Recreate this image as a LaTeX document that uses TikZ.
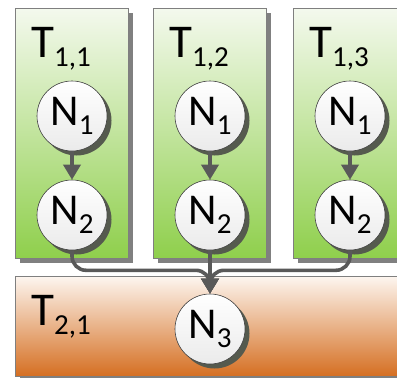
\documentclass[tikz,border=0pt]{standalone}
\usepackage{fontspec}
\setmainfont{Carlito}
\usetikzlibrary{arrows.meta, shadows}

\definecolor{boxline}{HTML}{7F7F7F}
\definecolor{boxshade}{HTML}{808080}
\definecolor{greentop}{HTML}{F4F9EE}
\definecolor{greenmid}{HTML}{C8E6A8}
\definecolor{greenbot}{HTML}{8FCF4C}
\definecolor{orangetop}{HTML}{FDF6F0}
\definecolor{orangemid}{HTML}{EDB88E}
\definecolor{orangebot}{HTML}{D56F22}
\definecolor{circshade}{HTML}{555A4E}
\definecolor{edgecol}{HTML}{595959}

% label with a lowered, smaller index
\newcommand{\idx}[2]{#1\raisebox{-0.2em}{\fontsize{29}{29}\selectfont #2}}

\begin{document}
\begin{tikzpicture}[x=1pt, y=-1pt,
  tbox/.style={draw=boxline, line width=0.8pt, inner sep=0pt,
               drop shadow={shadow xshift=5pt, shadow yshift=-5pt, fill=boxshade, opacity=1}},
  greenbox/.style={tbox, minimum width=113pt, minimum height=250pt,
                   top color=greentop, middle color=greenmid, bottom color=greenbot},
  orangebox/.style={tbox, minimum width=391pt, minimum height=100pt,
                    top color=orangetop, middle color=orangemid, bottom color=orangebot},
  title/.style={anchor=base west, inner sep=0pt, font=\fontsize{47}{47}\selectfont},
  circ/.style={circle, draw=black!75, line width=0.6pt, minimum size=70pt, inner sep=0pt,
               top color=white, bottom color=black!8,
               font=\fontsize{44}{44}\selectfont,
               drop shadow={shadow xshift=4.5pt, shadow yshift=-4.5pt, fill=circshade, opacity=1}},
  link/.style={draw=edgecol, line width=3.6pt, -{Triangle[width=17pt, length=15pt]}},
]
  \clip (0,0) rectangle (397,378);

  % first layer
  \node[greenbox] (t11) at (71.5,133) {};
  \node[greenbox] (t12) at (209.5,133) {};
  \node[greenbox] (t13) at (349.5,133) {};
  % second layer
  \node[orangebox] (t21) at (210.5,326) {};

  \node[title] (l11) at (31,57) {\idx{T}{1,1}};
  \node[title] (l12) at (169,57) {\idx{T}{1,2}};
  \node[title] (l13) at (309,57) {\idx{T}{1,3}};
  \node[title] (l21) at (31,325) {\idx{T}{2,1}};

  \node[circ] (a1) at (72,116) {\idx{N}{1}};
  \node[circ] (a2) at (72,215) {\idx{N}{2}};
  \node[circ] (b1) at (210,116) {\idx{N}{1}};
  \node[circ] (b2) at (210,215) {\idx{N}{2}};
  \node[circ] (c1) at (350,116) {\idx{N}{1}};
  \node[circ] (c2) at (350,215) {\idx{N}{2}};
  \node[circ] (n3) at (210,329) {\idx{N}{3}};

  \draw[link] (a1) -- (a2);
  \draw[link] (b1) -- (b2);
  \draw[link] (c1) -- (c2);

  % merge into the second layer
  \draw[link, rounded corners=14pt] (a2.south) -- ++(0,20) -| (n3.north);
  \draw[link, rounded corners=14pt] (c2.south) -- ++(0,20) -| (n3.north);
  \draw[link] (b2) -- (n3);
\end{tikzpicture}
\end{document}
